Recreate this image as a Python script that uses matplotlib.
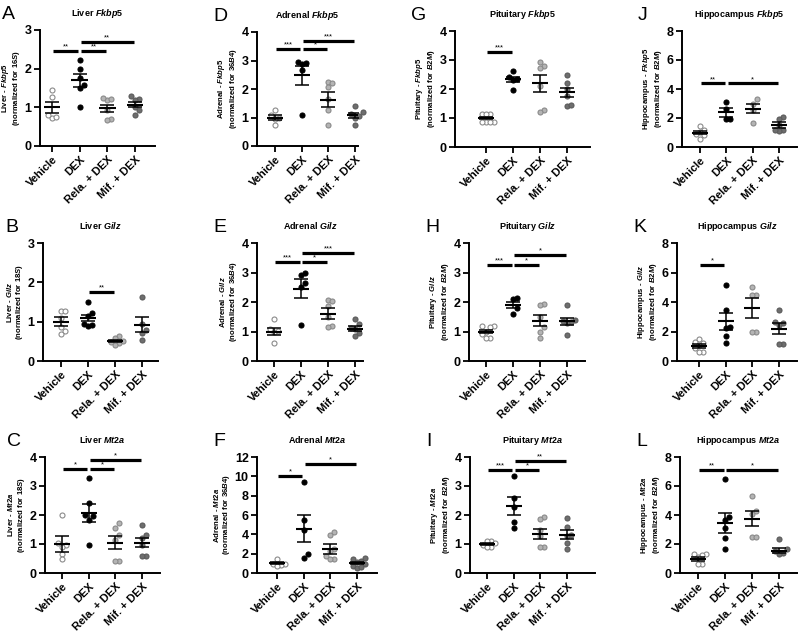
import numpy as np
import matplotlib
matplotlib.use("Agg")
import matplotlib.pyplot as plt

plt.rcParams['font.family'] = ['Liberation Sans', 'DejaVu Sans']
plt.rcParams['mathtext.fontset'] = 'custom'
plt.rcParams['mathtext.it'] = 'Liberation Sans:italic:bold'
plt.rcParams['mathtext.rm'] = 'Liberation Sans:bold'
plt.rcParams['mathtext.bf'] = 'Liberation Sans:bold'

groups = ["Vehicle", "DEX", "Rela. + DEX", "Mif. + DEX"]

# ---- data (points, mean, SEM per group) ----
liver_fkbp5 = [[1.45, 1.27, 0.72, 0.80, 0.76], [2.23, 2.0, 1.75, 1.58, 1.5, 1.0],
               [1.18, 1.22, 1.24, 0.92, 0.7, 0.68], [1.3, 1.22, 1.18, 1.02, 0.8, 0.92]]
liver_fkbp5_mean = [1.0, 1.7, 0.97, 1.07]
liver_fkbp5_sem = [0.14, 0.17, 0.1, 0.07]
liver_fkbp5_sig = [(0, 1, 2.46, "**"), (1, 2, 2.46, "**"), (1, 3, 2.7, "**")]

liver_gilz = [[1.28, 1.28, 1.1, 0.87, 0.77, 0.68], [1.49, 1.21, 1.14, 0.95, 0.9, 0.92],
              [0.63, 0.58, 0.52, 0.48, 0.45, 0.4], [1.62, 0.94, 0.8, 0.72, 0.53]]
liver_gilz_mean = [1.0, 1.09, 0.51, 0.92]
liver_gilz_sem = [0.12, 0.08, 0.03, 0.19]
liver_gilz_sig = [(1, 2, 1.76, "**")]

liver_mt2a = [[2.0, 1.03, 0.97, 0.9, 0.66, 0.48], [3.26, 2.42, 2.0, 1.97, 1.83, 0.97],
              [1.71, 1.54, 1.31, 1.14, 0.43, 0.4], [1.66, 1.31, 1.2, 0.97, 0.59, 0.57]]
liver_mt2a_mean = [1.0, 2.07, 1.05, 1.05]
liver_mt2a_sem = [0.26, 0.31, 0.23, 0.17]
liver_mt2a_sig = [(0, 1, 3.57, "*"), (1, 2, 3.57, "*"), (1, 3, 3.89, "*")]

adrenal_fkbp5 = [[1.28, 1.08, 0.98, 0.95, 0.72], [2.96, 2.9, 2.88, 2.67, 1.08],
                 [2.26, 2.22, 2.06, 1.65, 1.28, 0.73], [1.41, 1.18, 1.12, 1.05, 1.0, 0.74]]
adrenal_fkbp5_mean = [1.0, 2.48, 1.63, 1.08]
adrenal_fkbp5_sem = [0.08, 0.34, 0.25, 0.08]
adrenal_fkbp5_sig = [(0, 1, 3.39, "***"), (1, 2, 3.39, "*"), (1, 3, 3.69, "***")]

adrenal_gilz = [[1.43, 1.1, 1.02, 0.99, 0.61], [2.98, 2.91, 2.66, 2.5, 1.22],
                [2.07, 2.03, 1.86, 1.5, 1.18, 1.16], [1.44, 1.24, 1.13, 1.1, 0.95, 0.84]]
adrenal_gilz_mean = [1.0, 2.45, 1.6, 1.1]
adrenal_gilz_sem = [0.13, 0.32, 0.18, 0.08]
adrenal_gilz_sig = [(0, 1, 3.35, "***"), (1, 2, 3.35, "*"), (1, 3, 3.66, "***")]

adrenal_mt2a = [[1.44, 0.96, 0.9, 0.86, 0.75], [9.43, 5.49, 4.4, 2.0, 1.6],
                [4.25, 3.9, 2.45, 2.3, 1.8, 1.5, 1.4], [1.55, 1.45, 1.2, 1.1, 0.9, 0.7, 0.5, 0.6]]
adrenal_mt2a_mean = [1.0, 4.57, 2.5, 1.0]
adrenal_mt2a_sem = [0.1, 1.4, 0.5, 0.12]
adrenal_mt2a_sig = [(0, 1, 10.04, "*"), (1, 3, 11.31, "*")]

pituitary_fkbp5 = [[1.15, 1.15, 1.15, 0.87, 0.87, 0.87, 0.87], [2.62, 2.4, 2.36, 2.3, 1.98],
                   [2.94, 2.78, 2.72, 2.1, 1.27, 1.22], [2.48, 2.21, 2.0, 1.75, 1.42, 1.45]]
pituitary_fkbp5_mean = [1.0, 2.33, 2.19, 1.88]
pituitary_fkbp5_sem = [0.05, 0.1, 0.31, 0.17]
pituitary_fkbp5_sig = [(0, 1, 3.29, "***")]

pituitary_gilz = [[1.18, 1.18, 1.16, 1.0, 0.93, 0.78, 0.78], [2.15, 2.09, 1.78, 1.61],
                  [1.93, 1.9, 1.5, 1.16, 0.99, 0.78], [1.9, 1.4, 1.36, 1.32, 1.3, 0.88]]
pituitary_gilz_mean = [1.0, 1.9, 1.37, 1.35]
pituitary_gilz_sem = [0.06, 0.1, 0.19, 0.12]
pituitary_gilz_sig = [(0, 1, 3.24, "***"), (1, 2, 3.24, "*"), (1, 3, 3.58, "*")]

pituitary_mt2a = [[1.12, 1.09, 1.03, 0.97, 0.91, 0.89], [3.34, 2.57, 2.29, 1.77, 1.54],
                  [1.94, 1.85, 1.49, 1.26, 0.91, 0.89], [1.89, 1.6, 1.31, 1.26, 1.03, 0.82]]
pituitary_mt2a_mean = [1.0, 2.3, 1.35, 1.32]
pituitary_mt2a_sem = [0.03, 0.31, 0.18, 0.15]
pituitary_mt2a_sig = [(0, 1, 3.54, "***"), (1, 2, 3.54, "*"), (1, 3, 3.85, "**")]

hippo_fkbp5 = [[1.45, 1.2, 1.04, 0.92, 0.8, 0.58], [3.1, 2.65, 1.95, 1.9],
               [3.3, 3.0, 2.53, 1.66], [2.05, 1.95, 1.55, 1.15, 1.1, 1.15]]
hippo_fkbp5_mean = [1.0, 2.4, 2.65, 1.5]
hippo_fkbp5_sem = [0.12, 0.3, 0.33, 0.2]
hippo_fkbp5_sig = [(0, 1, 4.38, "**"), (1, 3, 4.38, "*")]

hippo_gilz = [[1.5, 1.3, 1.2, 1.1, 0.9, 0.6, 0.6], [5.16, 3.45, 2.32, 2.27, 1.7, 1.2],
              [5.0, 4.5, 4.45, 2.0, 1.95], [3.45, 2.66, 2.6, 2.43, 1.18, 1.18]]
hippo_gilz_mean = [1.0, 2.68, 3.58, 2.2]
hippo_gilz_sem = [0.13, 0.6, 0.68, 0.35]
hippo_gilz_sig = [(0, 1, 6.52, "*")]

hippo_mt2a = [[1.33, 1.33, 1.26, 1.1, 0.64, 0.64], [6.45, 3.89, 3.66, 3.09, 2.4, 1.65],
              [5.3, 4.25, 4.1, 2.5, 2.5], [2.33, 1.65, 1.49, 1.37, 1.3]]
hippo_mt2a_mean = [0.98, 3.43, 3.73, 1.55]
hippo_mt2a_sem = [0.12, 0.7, 0.52, 0.18]
hippo_mt2a_sig = [(0, 1, 7.09, "**"), (1, 3, 7.09, "*")]

# panel: letter, tissue, gene, reference, ymax, ystep, data, mean, sem, sig,
# axes box in pixels (left, top, right, bottom), pixel x of Vehicle and Mif
panels = [
    ("A", "Liver", "Fkbp5", "16S", 3, 1, liver_fkbp5, liver_fkbp5_mean, liver_fkbp5_sem, liver_fkbp5_sig, (40, 30, 155, 146), (52, 135)),
    ("B", "Liver", "Gilz", "18S", 3, 1, liver_gilz, liver_gilz_mean, liver_gilz_sem, liver_gilz_sig, (43, 243, 158, 361), (61, 142)),
    ("C", "Liver", "Mt2a", "18S", 4, 1, liver_mt2a, liver_mt2a_mean, liver_mt2a_sem, liver_mt2a_sig, (45, 457, 160, 573), (62, 142)),
    ("D", "Adrenal", "Fkbp5", "36B4", 4, 1, adrenal_fkbp5, adrenal_fkbp5_mean, adrenal_fkbp5_sem, adrenal_fkbp5_sig, (257, 32, 358, 146), (275, 355)),
    ("E", "Adrenal", "Gilz", "36B4", 4, 1, adrenal_gilz, adrenal_gilz_mean, adrenal_gilz_sem, adrenal_gilz_sig, (257, 243, 363, 361), (274, 355)),
    ("F", "Adrenal", "Mt2a", "36B4", 12, 2, adrenal_mt2a, adrenal_mt2a_mean, adrenal_mt2a_sem, adrenal_mt2a_sig, (257, 457, 377, 573), (277, 357)),
    ("G", "Pituitary", "Fkbp5", "B2M", 4, 1, pituitary_fkbp5, pituitary_fkbp5_mean, pituitary_fkbp5_sem, pituitary_fkbp5_sig, (455, 31, 590, 147), (486, 567)),
    ("H", "Pituitary", "Gilz", "B2M", 4, 1, pituitary_gilz, pituitary_gilz_mean, pituitary_gilz_sem, pituitary_gilz_sig, (469, 243, 585, 361), (486, 567)),
    ("I", "Pituitary", "Mt2a", "B2M", 4, 1, pituitary_mt2a, pituitary_mt2a_mean, pituitary_mt2a_sem, pituitary_mt2a_sig, (470, 457, 595, 573), (487, 567)),
    ("J", "Hippocampus", "Fkbp5", "B2M", 8, 2, hippo_fkbp5, hippo_fkbp5_mean, hippo_fkbp5_sem, hippo_fkbp5_sig, (682, 31, 797, 147), (700, 779)),
    ("K", "Hippocampus", "Gilz", "B2M", 8, 2, hippo_gilz, hippo_gilz_mean, hippo_gilz_sem, hippo_gilz_sig, (677, 243, 797, 361), (699, 779)),
    ("L", "Hippocampus", "Mt2a", "B2M", 8, 2, hippo_mt2a, hippo_mt2a_mean, hippo_mt2a_sem, hippo_mt2a_sig, (680, 457, 797, 573), (698, 779)),
]

face = ["white", "black", "#b4b4b4", "#6e6e6e"]
edge = ["#8a8a8a", "black", "#8a8a8a", "#5a5a5a"]

W, H = 798, 632
fig = plt.figure(figsize=(W / 100, H / 100), dpi=100)


def swarm(vals, ymax, d=0.15):
    # simple beeswarm: push overlapping points sideways
    thr = ymax * 0.045
    order = np.argsort(vals)
    xs = np.zeros(len(vals))
    placed = []
    for i in order:
        y = vals[i]
        for k in [0, 1, -1, 2, -2, 3, -3]:
            x = k * d
            if all(abs(x - px) > d * 0.9 or abs(y - py) > thr for px, py in placed):
                break
        xs[i] = x
        placed.append((x, y))
    return xs


for letter, tissue, gene, ref, ymax, ystep, data, means, sems, sig, box, cx in panels:
    l, t, r, b = box
    ax = fig.add_axes([l / W, 1 - b / H, (r - l) / W, (b - t) / H])
    s = (cx[1] - cx[0]) / 3
    ax.set_xlim((l - cx[0]) / s, (r - cx[0]) / s)
    ax.set_ylim(0, ymax)

    for i, vals in enumerate(data):
        vals = np.array(vals)
        xs = i + swarm(vals, ymax)
        ax.plot(xs, vals, "o", ms=3.6, mfc=face[i], mec=edge[i], mew=0.8, zorder=2, clip_on=False)
        ax.hlines(means[i], i - 0.3, i + 0.3, color="black", lw=1.5, zorder=3)
        ax.errorbar(i, means[i], yerr=sems[i], fmt="none", ecolor="black",
                    elinewidth=1.1, capsize=5, capthick=1.1, zorder=3)

    for i, j, y, stars in sig:
        ax.hlines(y, i + 0.05, j - 0.05, color="black", lw=2.3, clip_on=False)
        ax.text((i + j) / 2, y + ymax * 0.005, stars, ha="center", va="bottom", fontsize=5.5)

    ax.spines["top"].set_visible(False)
    ax.spines["right"].set_visible(False)
    ax.spines["left"].set_linewidth(1.4)
    ax.spines["bottom"].set_linewidth(1.4)
    ax.set_yticks(np.arange(0, ymax + 0.01, ystep))
    ax.set_xticks(range(4))
    ax.set_xticklabels(groups, rotation=45, ha="right", rotation_mode="anchor",
                       fontsize=8, fontweight="bold")
    for lab in ax.get_yticklabels():
        lab.set_fontweight("bold")
    ax.tick_params(axis="y", labelsize=9, width=1.3, length=4, pad=2)
    ax.tick_params(axis="x", width=1.3, length=4, pad=2)

    ax.set_title(tissue + r" $\mathit{" + gene + "}$", fontsize=6.5, fontweight="bold", pad=10)
    ax.set_ylabel(tissue + r" - $\mathit{" + gene + "}$" + "\n" +
                  r"(normalized for $\mathit{" + ref + "}$)", fontsize=5.6,
                  fontweight="bold", labelpad=2, linespacing=1.05)

    fig.text((l - 38 if l < 100 else l - 44) / W, 1 - (t - 24) / H, letter,
             fontsize=14, ha="left", va="top")

fig.savefig("out.png", dpi=100)
